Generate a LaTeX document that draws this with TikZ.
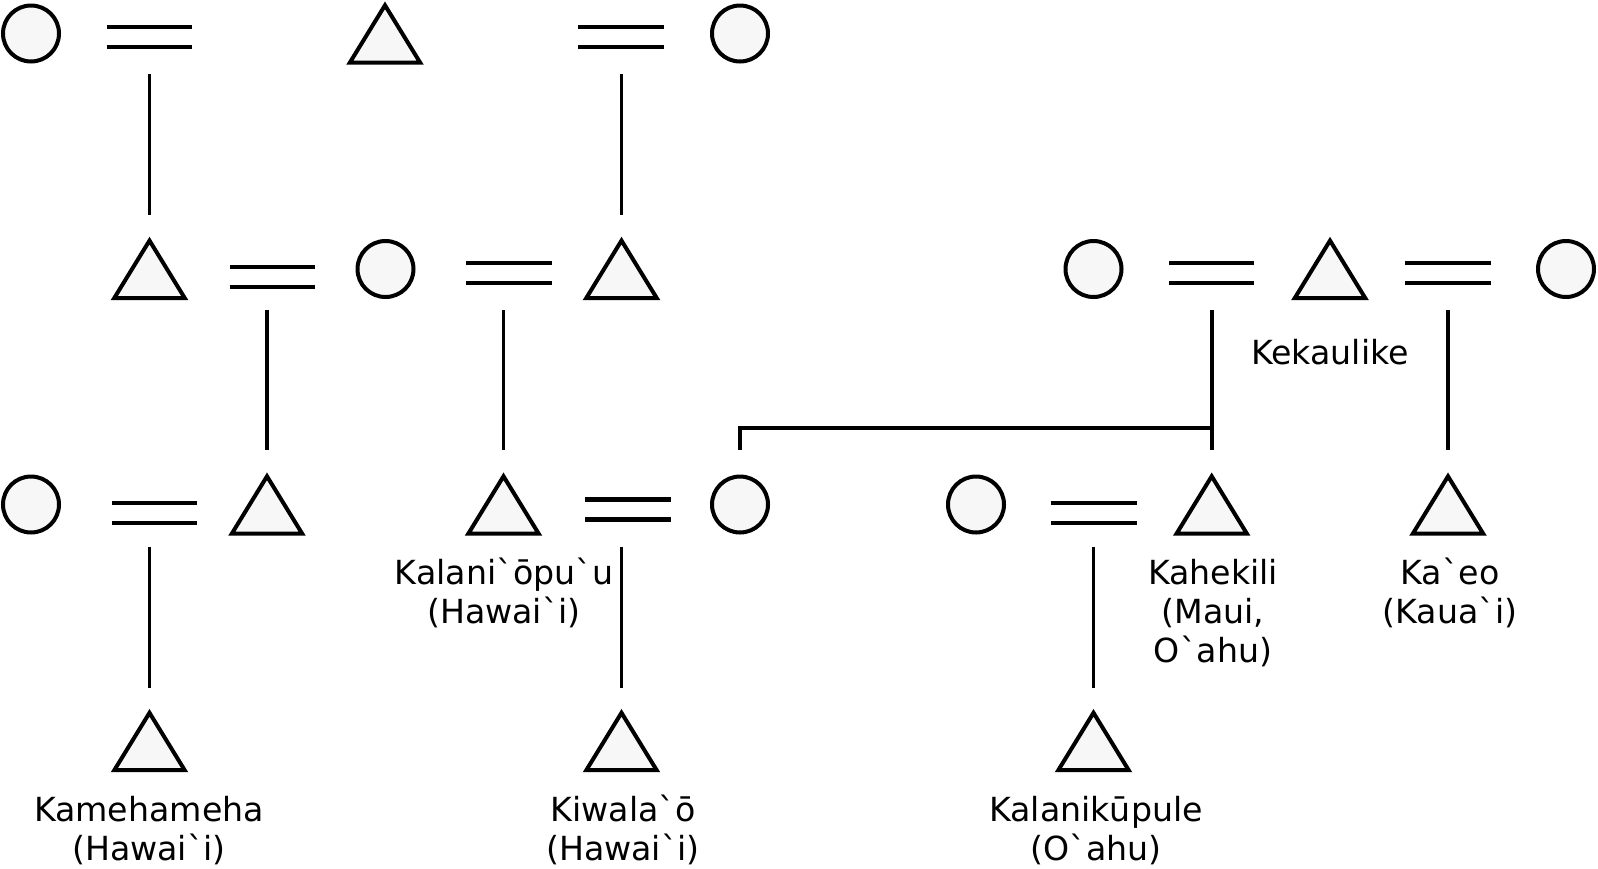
\documentclass[tikz,border=0pt]{standalone}
\usepackage{fontspec}
\setmainfont{DejaVu Sans}[Ligatures=TeXOff]
\usetikzlibrary{calc}
\definecolor{shapefill}{RGB}{247,247,247}
\tikzset{
 fem/.style={circle, draw, line width=4pt, fill=shapefill, minimum size=56pt, inner sep=0pt},
 malebox/.style={minimum width=70pt, minimum height=57pt, inner sep=0pt},
 tri/.style={draw, line width=4pt, fill=shapefill, line join=miter},
 marr/.style={minimum width=85pt, minimum height=20pt, inner sep=0pt},
 eqline/.style={line width=4pt},
 conn/.style={line width=3.6pt, line join=miter},
 lbl/.style={font=\fontsize{33.2}{39}\selectfont, align=center, anchor=base, inner sep=0pt},
}
\begin{document}
\begin{tikzpicture}[x=1pt,y=-1pt]
\useasboundingbox (0,0) rectangle (1598,868);
% row 1
\node[fem] (f1) at (31,33.5) {};
\node[marr] (e1) at (149.5,36.7) {};
\node[malebox] (m1) at (385,34) {};
\node[marr] (e2) at (621,36.7) {};
\node[fem] (f2) at (740,33.5) {};
% row 2
\node[malebox] (m2) at (149.5,269.3) {};
\node[marr] (e3) at (272.5,276.7) {};
\node[fem] (f3) at (385.5,269) {};
\node[marr] (e4) at (509,272.7) {};
\node[malebox] (m3) at (621.5,269.3) {};
\node[fem] (f4) at (1093.5,269) {};
\node[marr] (e5) at (1211.7,272.7) {};
\node[malebox] (m4) at (1330,269.3) {};
\node[marr] (e6) at (1448,272.7) {};
\node[fem] (f5) at (1566,269) {};
% row 3
\node[fem] (f6) at (31,504.5) {};
\node[marr] (e7) at (154.5,512.7) {};
\node[malebox] (m5) at (267,505) {};
\node[malebox] (m6) at (503.5,505) {};
\node[marr] (e8) at (628,509.3) {};
\node[fem] (f7) at (740,504.5) {};
\node[fem] (f8) at (976,504.5) {};
\node[marr] (e9) at (1094,512.7) {};
\node[malebox] (m7) at (1211.7,505) {};
\node[malebox] (m8) at (1448,505) {};
% row 4
\node[malebox] (m9) at (149.5,741.5) {};
\node[malebox] (m10) at (621.5,741.5) {};
\node[malebox] (m11) at (1093.5,741.5) {};
% triangles
\foreach \m in {m1,m2,m3,m4,m5,m6,m7,m8,m9,m10,m11}
  \draw[tri] (\m.south west) -- (\m.north) -- (\m.south east) -- cycle;
% marriage signs
\foreach \e in {e1,e2,e3,e4,e5,e6,e7,e9}{
  \draw[eqline] (\e.north west) -- (\e.north east);
  \draw[eqline] (\e.south west) -- (\e.south east);
}
\draw[eqline, line width=4.8pt] (e8.north west) -- (e8.north east);
\draw[eqline, line width=4.8pt] (e8.south west) -- (e8.south east);
% descent lines
\draw[conn, shorten <=27.3pt, shorten >=25.3pt] (m2.north |- e1.south) -- (m2.north);
\draw[conn, shorten <=27.3pt, shorten >=25.3pt] (m3.north |- e2.south) -- (m3.north);
\draw[conn, shorten <=23.3pt, shorten >=26pt] (m5.north |- e3.south) -- (m5.north);
\draw[conn, shorten <=27.3pt, shorten >=26pt] (m6.north |- e4.south) -- (m6.north);
\draw[conn, shorten <=27.3pt, shorten >=26pt] (m7.north |- e5.south) -- (m7.north);
\draw[conn, shorten <=27.3pt, shorten >=26pt] (m8.north |- e6.south) -- (m8.north);
\coordinate (br) at (1211.7,428);
\coordinate (stub) at (740,450);
\draw[conn] (br) -| (stub);
\draw[conn, shorten <=24pt, shorten >=25.2pt] (m9.north |- e7.south) -- (m9.north);
\draw[conn, shorten <=27.4pt, shorten >=25.2pt] (m10.north |- e8.south) -- (m10.north);
\draw[conn, shorten <=24pt, shorten >=25.2pt] (m11.north |- e9.south) -- (m11.north);
% labels (anchored at the baseline of the last line)
\node[lbl] (l1) at (1330,364) {Kekaulike};
\node[lbl] (l2) at (504,623) {Kalani`ōpu`u\\(Hawai`i)};
\node[lbl] (l3) at (1213,662) {Kahekili\\(Maui,\\O`ahu)};
\node[lbl] (l4) at (1450,623) {Ka`eo\\(Kaua`i)};
\node[lbl] (l5) at (149,860) {Kamehameha\\(Hawai`i)};
\node[lbl] (l6) at (623,860) {Kiwala`ō\\(Hawai`i)};
\node[lbl] (l7) at (1096,860) {Kalanikūpule\\(O`ahu)};
\end{tikzpicture}
\end{document}
